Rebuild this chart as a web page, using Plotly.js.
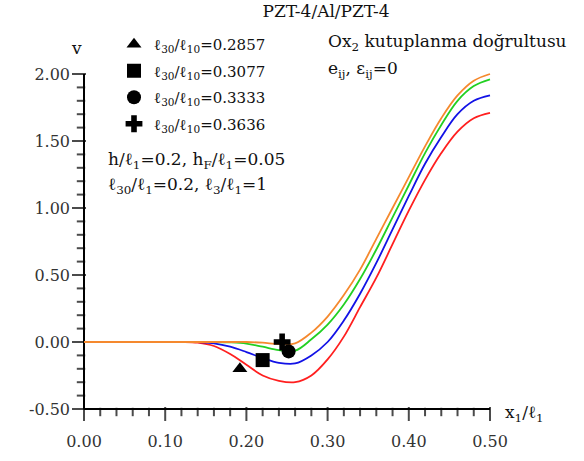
<!DOCTYPE html>
<html><head><meta charset="utf-8">
<script src="https://cdn.plot.ly/plotly-3.0.1.min.js"></script>
<style>body{margin:0;background:#fff}#c{width:584px;height:461px}</style>
</head><body><div id="c"></div>
<script>
// x positions (x1/l1)
const xs = [0.00, 0.10, 0.12, 0.14, 0.16, 0.18, 0.20, 0.22, 0.24, 0.26, 0.28, 0.30, 0.32, 0.34, 0.36, 0.38, 0.40, 0.42, 0.44, 0.46, 0.48, 0.50];
// v values for each l30/l10 ratio
const vRed    = [0, 0, 0, -0.005, -0.03, -0.09, -0.17, -0.25, -0.29, -0.30, -0.25, -0.13, 0.04, 0.26, 0.48, 0.73, 0.98, 1.21, 1.41, 1.57, 1.67, 1.71];
const vBlue   = [0, 0, 0, 0, -0.01, -0.035, -0.075, -0.12, -0.155, -0.16, -0.10, 0.00, 0.16, 0.36, 0.59, 0.84, 1.09, 1.33, 1.53, 1.70, 1.80, 1.84];
const vGreen  = [0, 0, 0, 0, 0, -0.003, -0.012, -0.035, -0.06, -0.065, 0.02, 0.13, 0.28, 0.47, 0.69, 0.93, 1.17, 1.41, 1.62, 1.80, 1.91, 1.96];
const vOrange = [0, 0, 0, 0, 0, 0, 0, -0.005, -0.015, -0.01, 0.07, 0.19, 0.35, 0.54, 0.77, 1.00, 1.23, 1.46, 1.67, 1.84, 1.95, 2.00];
// marker labels and positions
const ratioNames = ["ℓ<sub>30</sub>/ℓ<sub>10</sub>=0.2857", "ℓ<sub>30</sub>/ℓ<sub>10</sub>=0.3077", "ℓ<sub>30</sub>/ℓ<sub>10</sub>=0.3333", "ℓ<sub>30</sub>/ℓ<sub>10</sub>=0.3636"];
const markX = [0.192, 0.220, 0.252, 0.244];
const markY = [-0.20, -0.135, -0.07, 0.00];
const symbols = ["triangle-up", "square", "circle", "cross"];
const xTicks = [0, 0.1, 0.2, 0.3, 0.4, 0.5];
const xTickText = ["0.00", "0.10", "0.20", "0.30", "0.40", "0.50"];
const xMinorStep = 0.02;
const yTicks = [-0.5, 0, 0.5, 1.0, 1.5, 2.0];
const yTickText = ["-0.50", "0.00", "0.50", "1.00", "1.50", "2.00"];
const yMinorStep = 0.1;

// ---- geometry (pixels) ----
const FW = 584, FH = 461;
const AX_L = 84, AX_R = 490, AX_T = 74, AX_B = 409;   // where the axis frame sits
const PAD = 12;                                         // room kept inside the plot for the outside ticks
const M = {l: AX_L - PAD, r: FW - AX_R - 4, t: AX_T - 2, b: FH - AX_B - PAD};
const PW = FW - M.l - M.r, PH = FH - M.t - M.b;
const xmin = xTicks[0], xmax = xTicks[xTicks.length - 1], ymin = yTicks[0], ymax = yTicks[yTicks.length - 1];
const ux = (AX_R - AX_L) / (xmax - xmin), uy = (AX_B - AX_T) / (ymax - ymin); // px per unit
const xRange = [xmin - (AX_L - M.l) / ux, xmin + (PW - (AX_L - M.l)) / ux];
const yRange = [ymin - (M.t + PH - AX_B) / uy, ymax + (AX_T - M.t) / uy];
const px = (p) => (p - M.l) / PW, py = (p) => (M.t + PH - p) / PH;

const serif = "DejaVu Serif, Liberation Serif, serif";
const cols = ["#ff1f1f", "#1212e6", "#22d022", "#f5892e"];
const axisCol = "#000000";
const traces = [];
const isMajor = (arr, v) => arr.some(t => Math.abs(t - v) < 1e-9);

// axis lines: drawn through the tick positions on the axes' own scales
traces.push({x: xTicks, y: xTicks.map(() => ymin), mode: "lines", line: {color: axisCol, width: 2, shape: "spline", smoothing: 1},
  showlegend: false, hoverinfo: "skip", cliponaxis: false});
traces.push({x: yTicks.map(() => xmin), y: yTicks, mode: "lines", line: {color: axisCol, width: 2, shape: "spline", smoothing: 1},
  showlegend: false, hoverinfo: "skip", cliponaxis: false});

// tick marks: vertical / horizontal line markers hanging off the axes
const tx = [], ty = [], ts = [];
for (let i = 0; i <= Math.round((xmax - xmin) / xMinorStep); i++) {
  const v = +(xmin + i * xMinorStep).toFixed(4);
  const len = isMajor(xTicks, v) ? 10 : 6;
  tx.push(v); ty.push(ymin - len / 2 / uy); ts.push(len);
}
const sx = [], sy = [], ss = [];
for (let i = 0; i <= Math.round((ymax - ymin) / yMinorStep); i++) {
  const v = +(ymin + i * yMinorStep).toFixed(4);
  const len = isMajor(yTicks, v) ? 10 : 6;
  sx.push(xmin - len / 2 / ux); sy.push(v); ss.push(len);
}
traces.push({x: tx, y: ty, mode: "markers", marker: {symbol: "line-ns", size: ts, color: axisCol, line: {color: axisCol, width: 2}},
  showlegend: false, hoverinfo: "skip", cliponaxis: false});
traces.push({x: sx, y: sy, mode: "markers", marker: {symbol: "line-ew", size: ss, color: axisCol, line: {color: axisCol, width: 2}},
  showlegend: false, hoverinfo: "skip", cliponaxis: false});

[vRed, vBlue, vGreen, vOrange].forEach((v, i) => traces.push({x: xs, y: v, mode: "lines",
  line: {color: cols[i], width: 1.8, shape: "spline", smoothing: 1}, showlegend: false, hoverinfo: "skip"}));
symbols.forEach((s, i) => traces.push({x: [markX[i]], y: [markY[i]], mode: "markers", name: ratioNames[i], legendgroup: "g" + i,
  marker: {symbol: s, size: s === "triangle-up" ? 13 : 14, color: "black"}}));

const axisCommon = {showgrid: false, zeroline: false, showline: false, ticks: "", tickfont: {family: serif, size: 16, color: "#333"}};
const txt = (x, y, text, size, anchor) => ({xref: "paper", yref: "paper", x: px(x), y: py(y), xanchor: anchor || "left", yanchor: "middle",
  showarrow: false, text: text, font: {family: serif, size: size, color: "#111"}});
const layout = {
  width: FW, height: FH,
  margin: M,
  paper_bgcolor: "white", plot_bgcolor: "white",
  font: {family: serif, size: 16, color: "#222"},
  title: {text: "PZT-4/Al/PZT-4", x: 326 / FW, xanchor: "center", y: 0.99, yanchor: "top", font: {family: serif, size: 17, color: "#111"}},
  xaxis: Object.assign({range: xRange, tickmode: "array", tickvals: xTicks, ticktext: xTickText, ticklabelstandoff: 9}, axisCommon),
  yaxis: Object.assign({range: yRange, tickmode: "array", tickvals: yTicks, ticktext: yTickText, ticklabelstandoff: 1}, axisCommon),
  showlegend: true,
  legend: {x: px(114), y: py(28), xanchor: "left", yanchor: "top", bgcolor: "rgba(0,0,0,0)", traceorder: "grouped", tracegroupgap: 4,
    font: {family: serif, size: 15, color: "#111"}, itemwidth: 30},
  annotations: [
    txt(326, 43, "Ox<sub>2</sub> kutuplanma doğrultusu", 17),
    txt(326, 69, "e<sub>ij</sub>, ε<sub>ij</sub>=0", 17),
    txt(106, 160, "h/ℓ<sub>1</sub>=0.2, h<sub>F</sub>/ℓ<sub>1</sub>=0.05", 17),
    txt(106, 185, "ℓ<sub>30</sub>/ℓ<sub>1</sub>=0.2, ℓ<sub>3</sub>/ℓ<sub>1</sub>=1", 17),
    txt(76, 48, "v", 17, "center"),
    txt(503, 413, "x<sub>1</sub>/ℓ<sub>1</sub>", 17)
  ]
};
Plotly.newPlot("c", traces, layout, {displayModeBar: false});
</script></body></html>
